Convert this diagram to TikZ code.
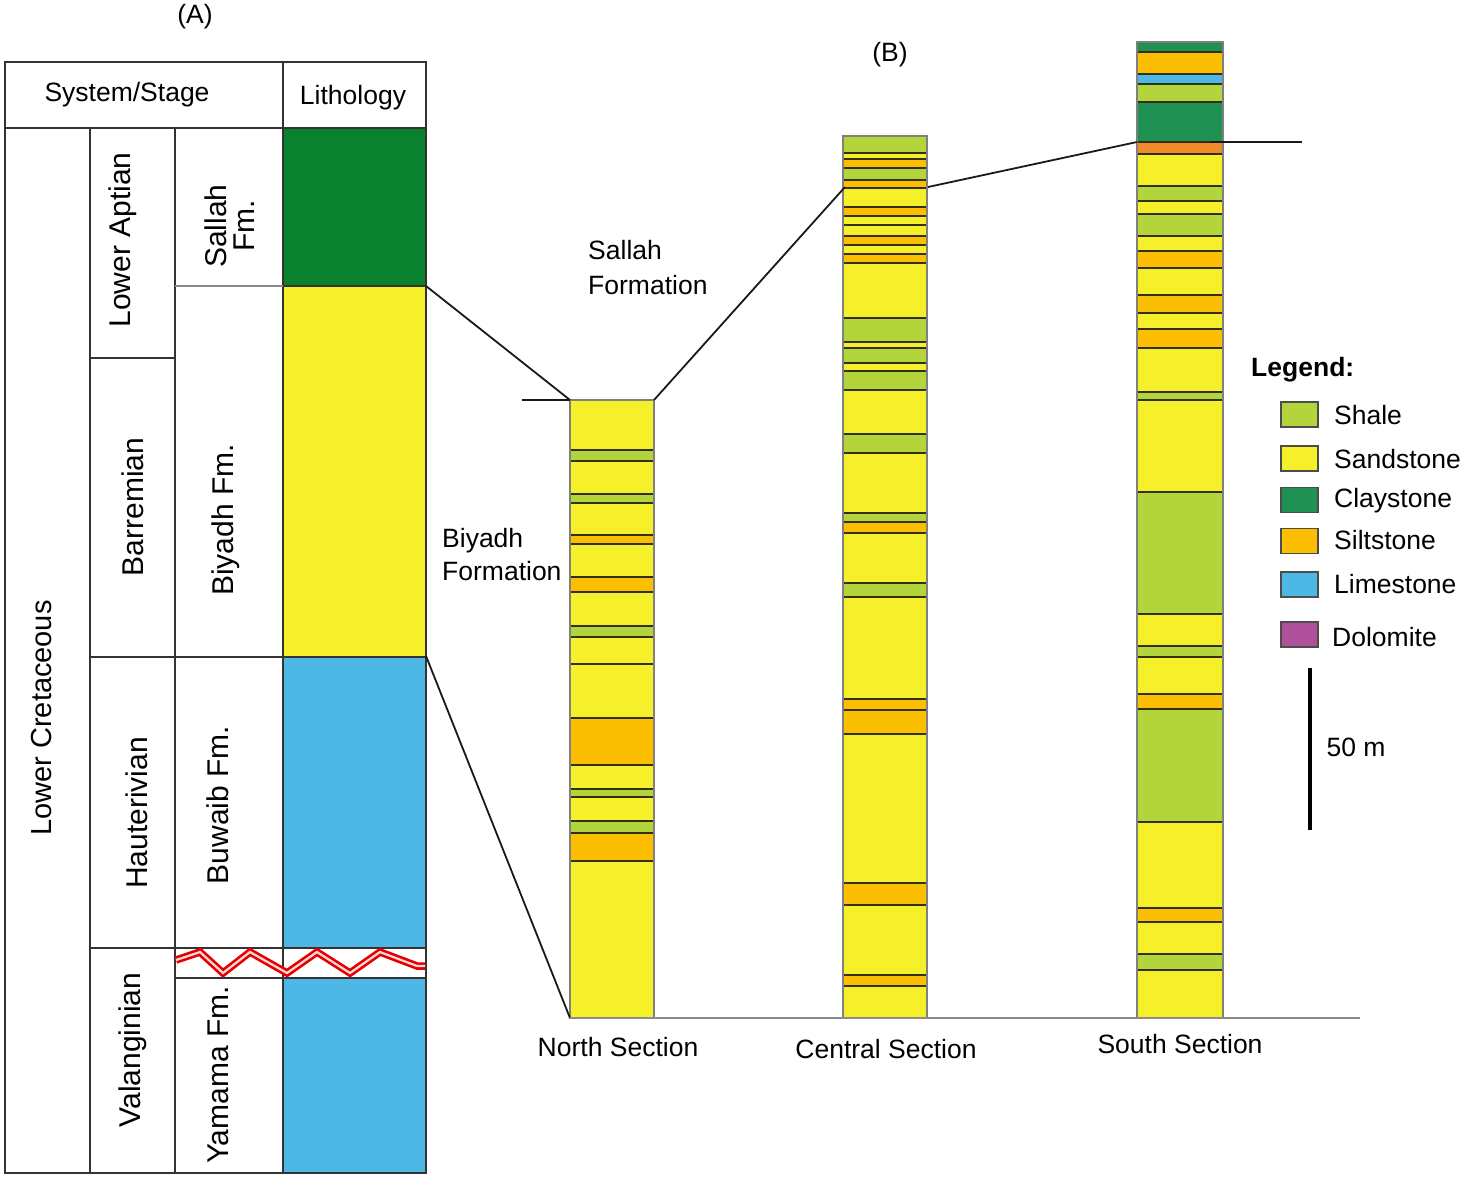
\documentclass[tikz,border=0pt]{standalone}
\usepackage{fontspec}
\setmainfont{Liberation Sans}
\definecolor{shalec}{HTML}{B3D43A}
\definecolor{sandc}{HTML}{F5F02A}
\definecolor{clayc}{HTML}{1F9152}
\definecolor{siltc}{HTML}{FBBE00}
\definecolor{limec}{HTML}{4DB8E6}
\definecolor{dolc}{HTML}{B04F9A}
\definecolor{orgc}{HTML}{F08A2A}
\definecolor{sallahc}{HTML}{08822E}
\definecolor{bandln}{HTML}{33301A}
\newcommand\fs[1]{\fontsize{#1}{#1}\selectfont}
\newcommand\fsb[2]{\fontsize{#1}{#2}\selectfont}
\tikzset{
  tbl/.style={draw=black!80, line width=2pt},
  bandbox/.style={draw=bandln, line width=2pt},
  corr/.style={draw=black!90, line width=1.8pt},
  lbl/.style={inner sep=0pt, font=\fs{26.5}},
  rlbl/.style={inner sep=0pt, font=\fs{30}, rotate=90},
  legbox/.style={draw=black!70, line width=1.4pt, minimum width=37pt, minimum height=25pt, inner sep=0pt},
}
\begin{document}
\begin{tikzpicture}[x=1pt,y=-1pt]
\useasboundingbox (0,0) rectangle (1464,1188);
% ---------- left table (A) ----------
\fill[sallahc] (283,128) rectangle (426,286);
\fill[sandc] (283,286) rectangle (426,656);
\fill[limec] (283,656) rectangle (426,948);
\fill[limec] (283,978) rectangle (426,1173);
\draw[tbl] (5,62) rectangle (426,1173);
\draw[tbl] (5,128) -- (426,128);
\draw[tbl] (283,62) -- (283,1173);
\draw[tbl] (90,128) -- (90,1173);
\draw[tbl] (175,128) -- (175,1173);
\draw[tbl] (90,358) -- (175,358);
\draw[tbl] (90,657) -- (426,657);
\draw[tbl] (90,948) -- (426,948);
\draw[tbl] (175,978) -- (426,978);
\draw[draw=black!45, line width=1.5pt] (175,286) -- (283,286);
\draw[tbl] (283,286) -- (426,286);
% unconformity
\draw[red!90!black, line width=7.5pt, line join=miter] (176,960) -- (200,952) -- (223,973) -- (250,952) -- (287,973) -- (317,952) -- (350,973) -- (380,952) -- (417,966) -- (425,966);
\draw[white!85!red, line width=2.2pt, line join=miter] (176,960) -- (200,952) -- (223,973) -- (250,952) -- (287,973) -- (317,952) -- (350,973) -- (380,952) -- (417,966) -- (425,966);
% table texts
\node[lbl] (tA) at (195,17) {(A)};
\node[lbl] (tB) at (890,55) {(B)};
\node[lbl] (hSys) at (127,95) {System/Stage};
\node[lbl] (hLit) at (353,98) {Lithology};
\node[rlbl, font=\fs{29}] (sLC) at (42,718) {Lower Cretaceous};
\node[rlbl] (sLA) at (123,240) {Lower Aptian};
\node[rlbl] (sBa) at (133,507) {Barremian};
\node[rlbl] (sHa) at (137,813) {Hauterivian};
\node[rlbl] (sVa) at (133,1050) {Valanginian};
\node[rlbl, align=center, font=\fsb{30}{28}] (fSa) at (230,226) {Sallah\\Fm.};
\node[rlbl] (fBi) at (226,520) {Biyadh Fm.};
\node[rlbl] (fBu) at (218,805) {Buwaib Fm.};
\node[rlbl] (fYa) at (218,1075) {Yamama Fm.};
% ---------- sections (B) ----------
% North
\foreach \c/\a/\b in {sandc/400/450, shalec/450/461, sandc/461/494, shalec/494/503, sandc/503/535, siltc/535/544, sandc/544/577, siltc/577/592, sandc/592/626, shalec/626/637, sandc/637/664, sandc/664/718, siltc/718/765, sandc/765/789, shalec/789/797, sandc/797/821, shalec/821/833, siltc/833/861, sandc/861/1018}
  \filldraw[bandbox, fill=\c] (570,\a) rectangle (654,\b);
\draw[draw=black!50, line width=1.4pt] (570,400) rectangle (654,1018);
% Central
\foreach \c/\a/\b in {shalec/136/153, sandc/153/159, siltc/159/168, shalec/168/180, siltc/180/188, sandc/188/207, siltc/207/216, sandc/216/225, sandc/225/236, siltc/236/245, sandc/245/254, siltc/254/263, sandc/263/318, shalec/318/342, sandc/342/348, shalec/348/363, sandc/363/371, shalec/371/390, sandc/390/434, shalec/434/453, sandc/453/513, shalec/513/522, siltc/522/533, sandc/533/583, shalec/583/597, sandc/597/699, siltc/699/710, siltc/710/734, sandc/734/883, siltc/883/905, sandc/905/975, siltc/975/986, sandc/986/1018}
  \filldraw[bandbox, fill=\c] (843,\a) rectangle (927,\b);
\draw[draw=black!50, line width=1.4pt] (843,136) rectangle (927,1018);
% South
\foreach \c/\a/\b in {clayc/42/52, siltc/52/74, limec/74/84, shalec/84/102, clayc/102/142, orgc/142/154, sandc/154/186, shalec/186/201, sandc/201/214, shalec/214/236, sandc/236/251, siltc/251/268, sandc/268/295, siltc/295/313, sandc/313/329, siltc/329/348, sandc/348/392, shalec/392/400, sandc/400/492, shalec/492/614, sandc/614/646, shalec/646/657, sandc/657/694, siltc/694/709, shalec/709/822, sandc/822/908, siltc/908/922, sandc/922/954, shalec/954/970, sandc/970/1018}
  \filldraw[bandbox, fill=\c] (1137,\a) rectangle (1223,\b);
\draw[draw=black!50, line width=1.4pt] (1137,42) rectangle (1223,1018);
% coordinates for correlation
\coordinate (tSa) at (426,286);
\coordinate (tBu) at (426,656);
\coordinate (nTL) at (570,400);
\coordinate (nTR) at (654,400);
\coordinate (nBL) at (570,1018);
\coordinate (nLeft) at (522,400);
\coordinate (cL) at (845,187);
\coordinate (cR) at (928,187);
\coordinate (sL) at (1137,142);
\coordinate (sIn) at (1210,142);
\coordinate (sOut) at (1302,142);
\coordinate (base) at (1360,1018);
\draw[corr] (tSa) -- (nTL);
\draw[corr] (nLeft) -- (nTL);
\draw[corr] (nTR) -- (cL);
\draw[corr] (cR) -- (sL);
\draw[corr] (sIn) -- (sOut);
\draw[corr] (tBu) -- (nBL);
\draw[draw=black!45, line width=2pt] (nBL) -- (base);
% labels
\node[lbl, anchor=west, align=left, font=\fsb{26.5}{35}] (lSa) at (588,268) {Sallah\\Formation};
\node[lbl, anchor=west, align=left, font=\fsb{26.5}{33}] (lBi) at (442,555) {Biyadh\\Formation};
\node[lbl] (nN) at (618,1047) {North Section};
\node[lbl] (nC) at (886,1049) {Central Section};
\node[lbl] (nS) at (1180,1044) {South Section};
% legend
\node[lbl, anchor=west, font=\fs{26.5}\bfseries] (leg) at (1251,370) {Legend:};
\node[legbox, fill=shalec] (b1) at (1299.5,414.5) {};
\node[legbox, fill=sandc] (b2) at (1299.5,458.5) {};
\node[legbox, fill=clayc] (b3) at (1299.5,500) {};
\node[legbox, fill=siltc] (b4) at (1299.5,541) {};
\node[legbox, fill=limec] (b5) at (1299.5,584.5) {};
\node[legbox, fill=dolc] (b6) at (1299.5,634.5) {};
\node[lbl, anchor=west] (t1) at (1334,415) {Shale};
\node[lbl, anchor=west] (t2) at (1334,459) {Sandstone};
\node[lbl, anchor=west] (t3) at (1334,501) {Claystone};
\node[lbl, anchor=west] (t4) at (1334,540) {Siltstone};
\node[lbl, anchor=west] (t5) at (1334,584) {Limestone};
\node[lbl, anchor=west] (t6) at (1332,637) {Dolomite};
\coordinate (scT) at (1310,668);
\coordinate (scB) at (1310,830);
\draw[line width=4pt] (scT) -- (scB);
\node[lbl] (sc) at (1356,747) {50 m};
\end{tikzpicture}
\end{document}
